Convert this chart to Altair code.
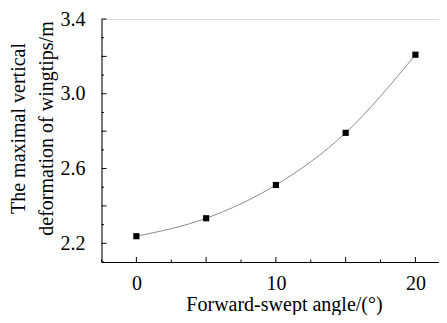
import altair as alt
import pandas as pd

angles = [0, 5, 10, 15, 20]
deformation = [2.238, 2.334, 2.512, 2.791, 3.209]

y_major = [2.2, 2.4, 2.6, 2.8, 3.0, 3.2, 3.4]
y_minor = [2.1, 2.3, 2.5, 2.7, 2.9, 3.1, 3.3]
x_major = [0, 5, 10, 15, 20]
x_minor = [-2.5, 2.5, 7.5, 12.5, 17.5]
y_labels = [2.2, 2.6, 3.0, 3.4]
x_labels = [0, 10, 20]

W, H = 337.5, 243
FONT = "Liberation Serif"

df = pd.DataFrame({"angle": angles, "def": deformation})

xs = alt.Scale(domain=[-2.5, 21.69], nice=False, zero=False)
ys = alt.Scale(domain=[2.1, 3.4], nice=False, zero=False)

xaxis = alt.Axis(values=x_labels, ticks=False, grid=False, labelFont=FONT, labelFontSize=20,
                 labelColor="black", labelPadding=11, domainColor="black", domainWidth=1,
                 title="Forward-swept angle/(°)", titleFont=FONT, titleFontSize=20,
                 titleFontWeight="normal", titleColor="black", titleX=182.5, titleY=48,
                 titleAlign="center", titleBaseline="alphabetic")
yaxis = alt.Axis(values=y_labels, ticks=False, grid=False, labelFont=FONT, labelFontSize=20,
                 labelColor="black", labelPadding=16.5, format=".1f", domainColor="black",
                 domainWidth=1,
                 title=["The maximal vertical", "deformation of wingtips/m"],
                 titleFont=FONT, titleFontSize=20, titleFontWeight="normal",
                 titleColor="black", titleY=109, titleX=-93, titleAlign="center",
                 titleBaseline="top", titleLineHeight=28)

line = alt.Chart(df).mark_line(interpolate="monotone", color="#8c8c8c", strokeWidth=1).encode(
    x=alt.X("angle:Q", scale=xs, axis=xaxis),
    y=alt.Y("def:Q", scale=ys, axis=yaxis),
)
pts = alt.Chart(df).mark_square(size=38, color="black", opacity=1).encode(
    x=alt.X("angle:Q", scale=xs), y=alt.Y("def:Q", scale=ys)
)

ymaj = alt.Chart(pd.DataFrame({"v": y_major})).mark_rule(color="black", strokeWidth=1).encode(
    y=alt.Y("v:Q", scale=ys), x=alt.value(0), x2=alt.value(5))
ymin = alt.Chart(pd.DataFrame({"v": y_minor})).mark_rule(color="black", strokeWidth=1).encode(
    y=alt.Y("v:Q", scale=ys), x=alt.value(0), x2=alt.value(2.5))
xmaj = alt.Chart(pd.DataFrame({"v": x_major})).mark_rule(color="black", strokeWidth=1).encode(
    x=alt.X("v:Q", scale=xs), y=alt.value(H), y2=alt.value(H - 5))
xmin = alt.Chart(pd.DataFrame({"v": x_minor})).mark_rule(color="black", strokeWidth=1).encode(
    x=alt.X("v:Q", scale=xs), y=alt.value(H), y2=alt.value(H - 2.5))

chart = alt.layer(line, ymaj, ymin, xmaj, xmin, pts).properties(
    width=W, height=H,
    autosize=alt.AutoSizeParams(type="none"),
    padding={"left": 93.5, "top": 11, "right": 0, "bottom": 53},
).configure_view(stroke=None).configure(background="white")

chart.save("out.html", embed_options={"renderer": "svg", "actions": False})
